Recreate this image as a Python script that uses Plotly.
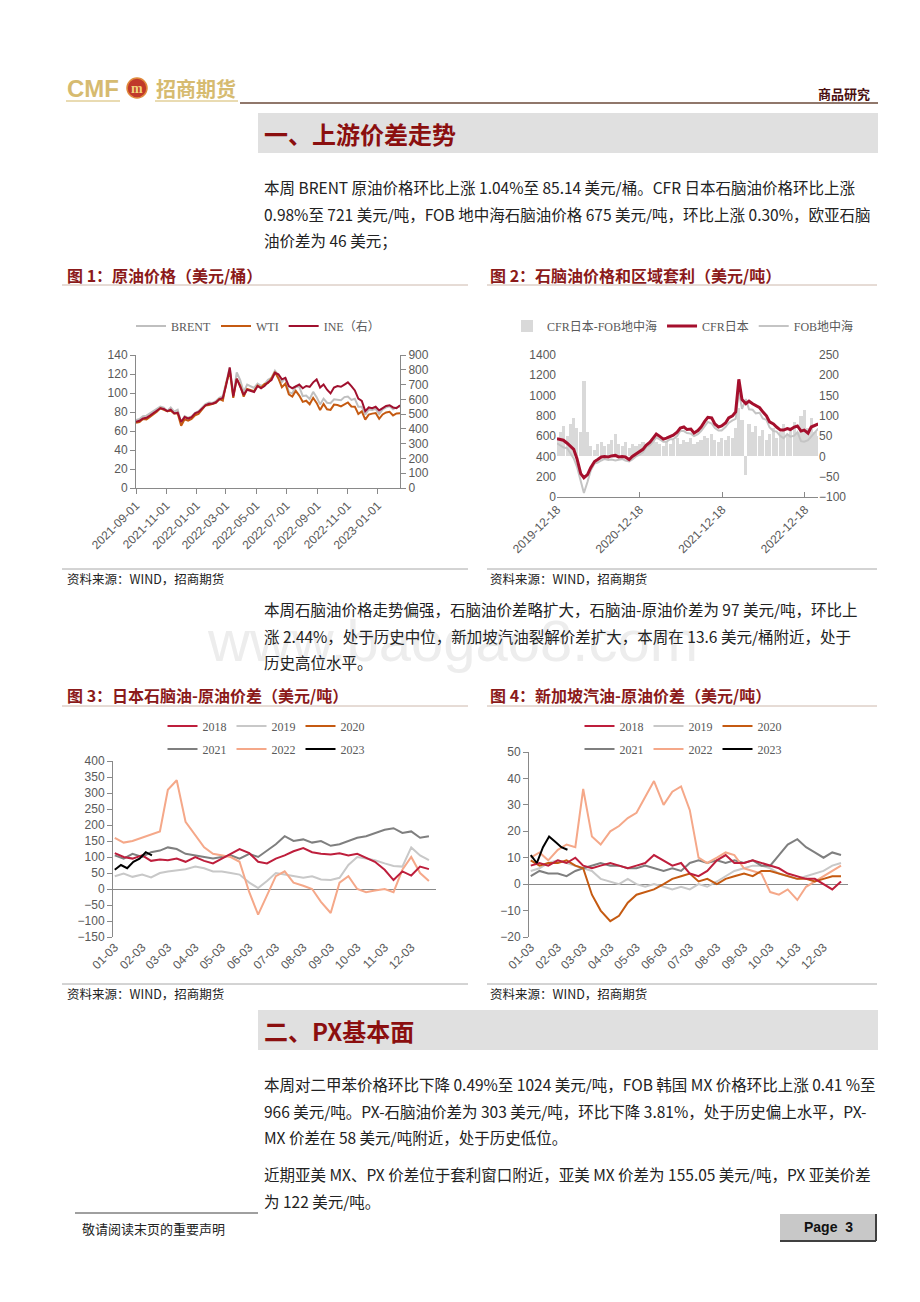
import plotly.graph_objects as go
import pandas as pd

# page is drawn with the browser's 8px body margin; compensate so reference pixels map 1:1
OFF = 8
W, H = 920 - OFF, 1302 - OFF
def px(x): return (x - OFF) / W
def py(y): return 1 - (y - OFF) / H

CJK = "Noto Sans CJK SC"
TICKF = dict(family="Liberation Sans", size=12, color="#595959")
LEGF = dict(family="Liberation Serif, Noto Sans CJK SC", size=12, color="#595959")
AXC = "#898989"

# ---------------- Chart 1 data: crude oil prices (weekly) ----------------
crude_dates = pd.date_range("2021-09-01", periods=77, freq="7D")
brent = [71.6, 72.6, 75.5, 76.2, 78.6, 81.1, 83.2, 85.8, 84.6, 81.0,
         84.7, 80.3, 82.3, 68.9, 75.8, 73.9, 75.3, 79.2, 80.8, 84.7,
         88.4, 89.9, 89.5, 91.5, 94.8, 96.8, 112.9, 127.0, 98.0, 121.6,
         113.5, 101.0, 108.8, 106.8, 105.3, 110.0, 107.5, 109.0, 114.0, 116.0,
         123.6, 118.5, 111.7, 116.0, 100.7, 99.6, 106.9, 106.6, 96.8, 97.4,
         93.7, 101.2, 95.6, 88.0, 94.1, 89.8, 89.3, 93.4, 92.5, 92.4,
         95.7, 96.2, 92.7, 93.9, 85.4, 85.4, 77.2, 82.7, 82.2, 83.3,
         77.8, 82.7, 84.9, 86.1, 82.8, 85.1, 85.4]
wti = [68.6, 69.3, 72.6, 72.2, 74.8, 77.4, 80.4, 83.9, 82.7, 80.9,
       81.3, 78.4, 78.4, 65.6, 72.4, 70.9, 72.8, 76.6, 77.9, 82.6,
       86.9, 87.4, 88.3, 89.7, 93.7, 92.1, 110.6, 123.0, 95.0, 114.9,
       107.8, 96.2, 104.3, 102.8, 102.0, 107.8, 105.7, 109.6, 110.3, 115.3,
       122.1, 115.3, 106.2, 109.8, 98.5, 96.3, 102.3, 97.3, 90.7, 91.9,
       88.1, 94.9, 89.6, 82.0, 88.5, 82.9, 82.2, 87.8, 87.3, 85.9,
       87.9, 90.0, 85.8, 85.6, 77.9, 80.6, 72.0, 77.3, 78.3, 78.9,
       72.8, 77.4, 79.5, 80.2, 76.4, 78.5, 78.6]
ine = [448, 455, 470, 475, 490, 505, 520, 540, 535, 520,
       530, 505, 510, 448, 480, 470, 480, 505, 515, 535,
       560, 570, 570, 580, 600, 610, 700, 815, 620, 740,
       690, 630, 665, 660, 650, 690, 675, 690, 715, 730,
       780, 770, 735, 745, 690, 675, 690, 700, 675, 690,
       685, 715, 735, 680, 700, 665, 640, 680, 690, 685,
       700, 715, 690, 660, 605, 590, 520, 545, 540, 550,
       525, 540, 555, 560, 545, 540, 560]

# ---------------- Chart 2 data: naphtha (semi-monthly) ----------------
naph_dates = ["2019-12-18"] + [f"{y}-{m:02d}-{d:02d}" for y in (2020, 2021, 2022) for m in range(1, 13) for d in (1, 15)] \
             + ["2023-01-01", "2023-01-15", "2023-02-01", "2023-02-15"]
cfr_japan = [575,
             570, 560, 530, 500, 470, 380, 230, 190, 220, 290, 350, 370,
             395, 400, 395, 405, 410, 395, 400, 395, 370, 400, 425, 445,
             470, 510, 540, 580, 620, 600, 570, 580, 600, 610, 640, 680,
             690, 665, 670, 630, 655, 690, 745, 785, 780, 720, 690, 700,
             730, 780, 800, 840, 1160, 960, 920, 945, 920, 900, 880, 840,
             800, 740, 720, 690, 660, 660, 675, 665, 690, 700, 650, 660,
             630, 690, 705, 720]
fob_med = [530,
           510, 490, 480, 430, 380, 300, 150, 40, 150, 260, 330, 340,
           360, 375, 365, 370, 360, 365, 375, 360, 350, 370, 400, 415,
           440, 490, 510, 545, 585, 570, 545, 545, 570, 570, 600, 650,
           650, 630, 625, 600, 620, 650, 695, 740, 725, 680, 655, 655,
           690, 730, 755, 770, 1040, 870, 965, 865, 860, 825, 830, 775,
           760, 685, 650, 645, 600, 580, 620, 595, 605, 640, 550, 545,
           560, 595, 645, 675]
naph_spread = [45,
               60, 75, 50, 80, 95, 70, 60, 185, 60, 25, 15, 30,
               35, 25, 30, 40, 55, 30, 25, 35, 20, 30, 25, 30,
               35, 20, 30, 40, 35, 30, 25, 35, 30, 40, 45, 30,
               40, 35, 45, 30, 35, 40, 50, 45, 55, 40, 35, 45,
               40, 50, 45, 70, 120, 90, -45, 80, 60, 75, 50, 65,
               40, 55, 70, 45, 60, 80, 55, 70, 85, 60, 100, 115,
               70, 95, 60, 50]

# ---------------- Chart 3/4 data: seasonal spreads ----------------
season_dates = [f"2000-{m:02d}-{d:02d}" for m in range(1, 13) for d in (3, 13, 23)]
dates_2023 = ["2000-01-03", "2000-01-10", "2000-01-17", "2000-01-24", "2000-01-31", "2000-02-07", "2000-02-14"]
years = ["2018", "2019", "2020", "2021", "2022", "2023"]

jp_naph_crude = {
    "2018": [112, 100, 95, 105, 88, 92, 90, 95, 85, 100, 88, 80, 95, 110, 125, 112, 85, 80,
             95, 105, 118, 128, 115, 110, 108, 112, 105, 110, 98, 85, 60, 28, 55, 42, 70, 62],
    "2019": [40, 48, 38, 45, 36, 50, 55, 58, 62, 70, 65, 55, 55, 50, 45, 20, 3, 25,
             50, 45, 40, 35, 40, 30, 28, 35, 75, 100, 95, 90, 80, 72, 70, 130, 105, 90],
    "2020": [None],
    "2021": [105, 95, 110, 100, 115, 120, 130, 125, 110, 105, 100, 95, 100, 105, 95, 110, 100, 120,
             140, 165, 150, 155, 145, 150, 135, 140, 150, 160, 165, 175, 185, 190, 175, 180, 160, 165],
    "2022": [160, 145, 150, 160, 170, 180, 310, 340, 210, 170, 130, 110, 105, 100, 85, -10, -80, -20,
             40, 55, 20, 10, 0, -40, -75, 20, 40, 0, -10, -5, 0, -10, 60, 100, 50, 25],
    "2023": [60, 75, 65, 85, 95, 115, 105],
}
sg_gasoline_crude = {
    "2018": [7, 8, 7, 9, 8, 10, 7, 6, 7, 8, 7, 6, 7, 8, 11, 9, 7, 8,
             4, 3, 5, 9, 11, 8, 8, 9, 8, 7, 6, 4, 3, 2, 2, 0, -2, 1],
    "2019": [5, 6, 8, 9, 8, 7, 6, 5, 2, 1, 0, 2, 0, -1, 0, -1, -2, -1,
             -2, 0, -1, 1, 3, 5, 6, 7, 7, 6, 4, 3, 2, 3, 4, 5, 7, 8],
    "2020": [9, 7, 8, 8, 9, 7, 6, -4, -10, -14, -12, -7, -4, -3, -2, 0, 2, 3,
             4, 1, 2, 0, 2, 3, 4, 3, 5, 5, 4, 3, 2, 2, 1, 2, 3, 3],
    "2021": [3, 5, 4, 4, 3, 5, 6, 7, 8, 7, 7, 6, 6, 7, 6, 5, 6, 5,
             8, 9, 8, 9, 8, 9, 8, 9, 7, 7, 11, 15, 17, 14, 12, 10, 12, 11],
    "2022": [10, 12, 9, 13, 15, 14, 36, 18, 15, 20, 22, 25, 27, 33, 39, 30, 35, 37,
             28, 10, 8, 10, 12, 11, 6, 5, 4, -3, -4, -2, -6, -1, 1, 3, 5, 7],
    "2023": [11, 8, 14, 18, 16, 14, 13],
}
year_colors = {"2018": "#BE1E3C", "2019": "#C8C8C8", "2020": "#C55A11",
               "2021": "#7F7F7F", "2022": "#F5A889", "2023": "#000000"}
draw_order = ["2019", "2021", "2022", "2020", "2018", "2023"]

fig = go.Figure()

# Chart 1
fig.add_trace(go.Scatter(x=crude_dates, y=brent, name="BRENT", mode="lines", line=dict(color="#BFBFBF", width=2),
                         xaxis="x", yaxis="y", legend="legend", legendrank=1))
fig.add_trace(go.Scatter(x=crude_dates, y=wti, name="WTI", mode="lines", line=dict(color="#C55A11", width=2),
                         xaxis="x", yaxis="y", legend="legend", legendrank=2))
fig.add_trace(go.Scatter(x=crude_dates, y=ine, name="INE（右）", mode="lines", line=dict(color="#A0102E", width=2),
                         xaxis="x", yaxis="y2", legend="legend", legendrank=3))

# Chart 2 (base axis y3 = right, spread bars; overlay y4 = left, prices)
fig.add_trace(go.Bar(x=naph_dates, y=naph_spread, name="CFR日本-FOB地中海", marker=dict(color="#D9D9D9", line=dict(width=0)),
                     width=14 * 86400000, xaxis="x2", yaxis="y3", legend="legend2", legendrank=1))
fig.add_trace(go.Scatter(x=naph_dates, y=fob_med, name="FOB地中海", mode="lines", line=dict(color="#C4C4C4", width=2),
                         xaxis="x2", yaxis="y4", legend="legend2", legendrank=3))
fig.add_trace(go.Scatter(x=naph_dates, y=cfr_japan, name="CFR日本", mode="lines", line=dict(color="#A50F2D", width=3),
                         xaxis="x2", yaxis="y4", legend="legend2", legendrank=2))

# Charts 3 and 4
for chart, data, xa, ya, legs in ((3, jp_naph_crude, "x3", "y5", ("legend3", "legend4")),
                                   (4, sg_gasoline_crude, "x4", "y6", ("legend5", "legend6"))):
    for yr in draw_order:
        xs = dates_2023 if yr == "2023" else season_dates[:len(data[yr])]
        leg = legs[0] if yr in ("2018", "2019", "2020") else legs[1]
        fig.add_trace(go.Scatter(x=xs, y=data[yr], name=yr, mode="lines",
                                 line=dict(color=year_colors[yr], width=2),
                                 xaxis=xa, yaxis=ya, legend=leg, legendrank=years.index(yr) + 1))

def yax(domain_top, domain_bot, rng, dtick, side="left", showline=True, anchor=None, overlaying=None, zeroline=False):
    d = dict(domain=[py(domain_bot), py(domain_top)], range=rng, dtick=dtick, side=side,
             showgrid=False, zeroline=zeroline, zerolinecolor=AXC, zerolinewidth=1,
             showline=showline, linecolor=AXC, linewidth=1,
             ticks="outside" if showline else "", ticklen=5, tickcolor=AXC,
             tickfont=TICKF, fixedrange=True, automargin=False)
    if anchor: d["anchor"] = anchor
    if overlaying: d["overlaying"] = overlaying
    return d

def xax(x0, x1, rng, tick0, dtick, fmt, anchor, showline=True, ticks="outside"):
    return dict(domain=[px(x0), px(x1)], type="date", range=rng, tick0=tick0, dtick=dtick,
                tickformat=fmt, tickangle=-45, showgrid=False, zeroline=False,
                showline=showline, linecolor=AXC, linewidth=1, ticks=ticks, ticklen=5,
                tickcolor=AXC, tickfont=TICKF, anchor=anchor, fixedrange=True, automargin=False)

def legend(xc, yc):
    return dict(x=px(xc), y=py(yc), xanchor="center", yanchor="middle", orientation="h",
                font=LEGF, bgcolor="rgba(0,0,0,0)", itemwidth=30, tracegroupgap=0,
                itemclick=False, itemdoubleclick=False)

layout = dict(
    width=W, height=H, margin=dict(l=0, r=0, t=0, b=0, pad=0, autoexpand=False),
    paper_bgcolor="white", plot_bgcolor="rgba(0,0,0,0)", showlegend=True, bargap=0,
    font=dict(family=CJK, color="#222222"),
    xaxis=xax(136, 400, ["2021-09-01", "2023-02-15"], "2021-09-01", "M2", "%Y-%m-%d", "y"),
    yaxis=yax(355, 488, [0, 140], 20),
    yaxis2=yax(355, 488, [0, 900], 100, side="right", anchor="x", overlaying="y"),
    xaxis2=xax(557, 818, ["2019-12-18", "2023-02-14"], "2019-12-18", "M12", "%Y-%m-%d", "y3", ticks="inside"),
    yaxis3=yax(355, 497, [-100, 250], 50, side="right", showline=False, anchor="x2"),
    yaxis4=yax(355, 497, [0, 1400], 200, side="left", showline=False, anchor="x2", overlaying="y3"),
    xaxis3=xax(113, 436, ["2000-01-01", "2000-12-31"], "2000-01-03", "M1", "%m-%d", "y5", showline=False, ticks=""),
    yaxis5=yax(761, 937, [-150, 400], 50, anchor="x3", zeroline=True),
    xaxis4=xax(529, 848, ["2000-01-01", "2000-12-31"], "2000-01-03", "M1", "%m-%d", "y6", showline=False, ticks=""),
    yaxis6=yax(752, 937, [-20, 50], 10, anchor="x4", zeroline=True),
    legend=legend(258, 326),
    legend2=legend(683, 326),
    legend3=legend(266, 726),
    legend4=legend(266, 749),
    legend5=legend(683, 726),
    legend6=legend(683, 749),
)
fig.update_layout(**layout)

shapes = []
annotations = []

def line(x0, y0, x1, y1, color, width=1):
    shapes.append(dict(type="line", xref="paper", yref="paper", x0=px(x0), y0=py(y0), x1=px(x1), y1=py(y1),
                       line=dict(color=color, width=width)))

def rect(x0, y0, x1, y1, fill, lc=None, lw=0):
    shapes.append(dict(type="rect", xref="paper", yref="paper", x0=px(x0), y0=py(y0), x1=px(x1), y1=py(y1),
                       fillcolor=fill, line=dict(color=lc or fill, width=lw), layer="below"))

def text(x, y, s, size=14, color="#222222", family=CJK, anchor="left", bold=False):
    if bold:
        s = f"<b>{s}</b>"
    annotations.append(dict(x=px(x), y=py(y), xref="paper", yref="paper", text=s, showarrow=False,
                            xanchor=anchor, yanchor="middle", font=dict(size=size, color=color, family=family)))

# watermark
text(452, 640, "www.baogao8.com", size=58, color="#EDEDED", family="Liberation Sans", anchor="center")

# header
text(65, 88, "CMF", size=24, color="#D6BB70", family="Liberation Sans", bold=True)
shapes.append(dict(type="circle", xref="paper", yref="paper", x0=px(127), y0=py(98), x1=px(147), y1=py(78),
                   fillcolor="#C0392B", line=dict(color="#E08A3C", width=1.5)))
text(137, 88, "m", size=14, color="#F2D27A", family="Liberation Serif", anchor="center", bold=True)
text(154, 88, "招商期货", size=20, color="#D6BB70", bold=True)
line(66, 101, 120, 101, "#E2CF98", 1.5)
line(155, 101, 238, 101, "#E2CF98", 1.5)
line(240, 103, 878, 103, "#6B4A3A", 1.5)
text(872, 93, "商品研究", size=13, color="#4A1010", anchor="right", bold=True)

# section boxes
rect(258, 113, 878, 153, "#E0E0E0")
text(262, 133, "一、上游价差走势", size=24, color="#8B0F0F", bold=True)
rect(258, 1010, 878, 1050, "#E0E0E0")
text(262, 1030, "二、PX基本面", size=24, color="#8B0F0F", bold=True)

BODY = 15.5
LS = 26.5
para1 = ["本周 BRENT 原油价格环比上涨 1.04%至 85.14 美元/桶。CFR 日本石脑油价格环比上涨",
         "0.98%至 721 美元/吨，FOB 地中海石脑油价格 675 美元/吨，环比上涨 0.30%，欧亚石脑",
         "油价差为 46 美元；"]
for i, s in enumerate(para1):
    text(262, 187 + LS * i, s, size=BODY)
para2 = ["本周石脑油价格走势偏强，石脑油价差略扩大，石脑油-原油价差为 97 美元/吨，环比上",
         "涨 2.44%，处于历史中位，新加坡汽油裂解价差扩大，本周在 13.6 美元/桶附近，处于",
         "历史高位水平。"]
for i, s in enumerate(para2):
    text(262, 609 + LS * i, s, size=BODY)
para3 = ["本周对二甲苯价格环比下降 0.49%至 1024 美元/吨，FOB 韩国 MX 价格环比上涨 0.41 %至",
         "966 美元/吨。PX-石脑油价差为 303 美元/吨，环比下降 3.81%，处于历史偏上水平，PX-",
         "MX 价差在 58 美元/吨附近，处于历史低位。"]
for i, s in enumerate(para3):
    text(262, 1084 + LS * i, s, size=BODY)
para4 = ["近期亚美 MX、PX 价差位于套利窗口附近，亚美 MX 价差为 155.05 美元/吨，PX 亚美价差",
         "为 122 美元/吨。"]
for i, s in enumerate(para4):
    text(262, 1174 + LS * i, s, size=BODY)

# chart titles, rules, sources
TC = "#8B1A1A"
text(65, 275, "图 1：原油价格（美元/桶）", size=16, color=TC, bold=True)
text(488, 275, "图 2：石脑油价格和区域套利（美元/吨）", size=16, color=TC, bold=True)
text(65, 695, "图 3：日本石脑油-原油价差（美元/吨）", size=16, color=TC, bold=True)
text(488, 695, "图 4：新加坡汽油-原油价差（美元/吨）", size=16, color=TC, bold=True)
for (a, b) in ((62, 468), (487, 877)):
    line(a, 285, b, 285, "#CDB8AC", 1)
    line(a, 706, b, 706, "#CDB8AC", 1)
    line(a, 569, b, 569, "#A8A8A8", 1)
    line(a, 984, b, 984, "#A8A8A8", 1)
for (a, y) in ((65, 578), (488, 578), (65, 993), (488, 993)):
    text(a, y, "资料来源：WIND，招商期货", size=12.5, color="#222222")

# footer
line(75, 1213, 258, 1213, "#404040", 1)
text(80, 1228, "敬请阅读末页的重要声明", size=13, color="#222222")
rect(780, 1214, 876, 1240, "#C8C8C8")
line(876, 1214, 876, 1241, "#404040", 2)
line(780, 1241, 876, 1241, "#404040", 2)
text(828, 1227, "Page  3", size=14, color="#111111", family="Liberation Sans", anchor="center", bold=True)

fig.update_layout(shapes=shapes, annotations=annotations)
fig.write_html("out.html")
